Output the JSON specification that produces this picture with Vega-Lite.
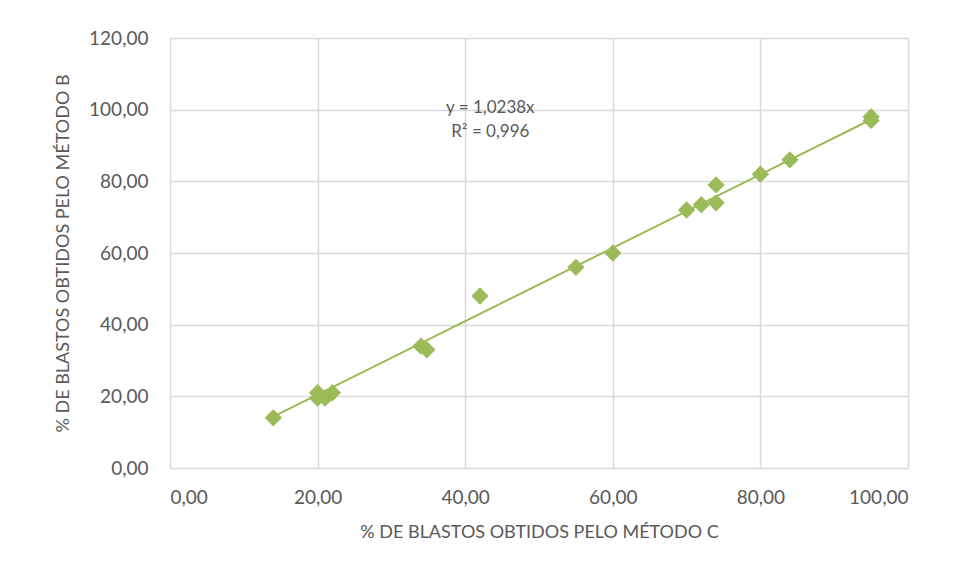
{
  "$schema": "https://vega.github.io/schema/vega-lite/v6.json",
  "autosize": {"type": "none"},
  "width": 738,
  "height": 430,
  "padding": {"left": 170, "top": 38, "right": 54, "bottom": 111},
  "background": "white",
  "config": {
    "view": {"stroke": null},
    "font": "Lato",
    "axis": {
      "gridColor": "#d9d9d9",
      "gridWidth": 1.5,
      "domain": false,
      "ticks": false,
      "labelColor": "#595959",
      "titleColor": "#595959",
      "labelFont": "Lato",
      "titleFont": "Lato",
      "labelFontSize": 19,
      "titleFontSize": 18,
      "titleFontWeight": "normal"
    }
  },
  "datasets": {
    "pts": [
      {"c": 14, "b": 14},
      {"c": 20, "b": 21},
      {"c": 20, "b": 19.5},
      {"c": 21, "b": 19.5},
      {"c": 22, "b": 21},
      {"c": 34, "b": 34},
      {"c": 34.8, "b": 33},
      {"c": 42, "b": 48},
      {"c": 55, "b": 56},
      {"c": 60, "b": 60},
      {"c": 70, "b": 72},
      {"c": 72, "b": 73.5},
      {"c": 74, "b": 74},
      {"c": 74, "b": 79},
      {"c": 80, "b": 82},
      {"c": 84, "b": 86},
      {"c": 95, "b": 98},
      {"c": 95, "b": 97}
    ],
    "trend": [
      {"c": 14, "b": 14.333},
      {"c": 95, "b": 97.261}
    ],
    "eq": [
      {"c": 43.4, "b": 100.5, "t": "y = 1,0238x"},
      {"c": 43.4, "b": 93.8, "t": "R² = 0,996"}
    ]
  },
  "layer": [
    {
      "data": {"name": "trend"},
      "mark": {"type": "line", "color": "#9bbb59", "strokeWidth": 2},
      "encoding": {
        "x": {
          "field": "c", "type": "quantitative",
          "scale": {"domain": [0, 100], "nice": false},
          "axis": {
            "values": [0, 20, 40, 60, 80, 100],
            "labelExpr": "replace(format(datum.value, '.2f'), '.', ',')",
            "labelPadding": 20,
            "title": "% DE BLASTOS OBTIDOS PELO MÉTODO C",
            "titlePadding": 16
          }
        },
        "y": {
          "field": "b", "type": "quantitative",
          "scale": {"domain": [0, 120], "nice": false},
          "axis": {
            "values": [0, 20, 40, 60, 80, 100, 120],
            "labelExpr": "replace(format(datum.value, '.2f'), '.', ',')",
            "labelPadding": 22,
            "title": "% DE BLASTOS OBTIDOS PELO MÉTODO B",
            "titlePadding": 16
          }
        }
      }
    },
    {
      "data": {"name": "pts"},
      "mark": {"type": "point", "shape": "diamond", "filled": true, "color": "#9bbb59", "opacity": 1, "size": 300},
      "encoding": {
        "x": {"field": "c", "type": "quantitative"},
        "y": {"field": "b", "type": "quantitative"}
      }
    },
    {
      "data": {"name": "eq"},
      "mark": {"type": "text", "color": "#595959", "fontSize": 17, "font": "Lato"},
      "encoding": {
        "x": {"field": "c", "type": "quantitative"},
        "y": {"field": "b", "type": "quantitative"},
        "text": {"field": "t"}
      }
    }
  ]
}
